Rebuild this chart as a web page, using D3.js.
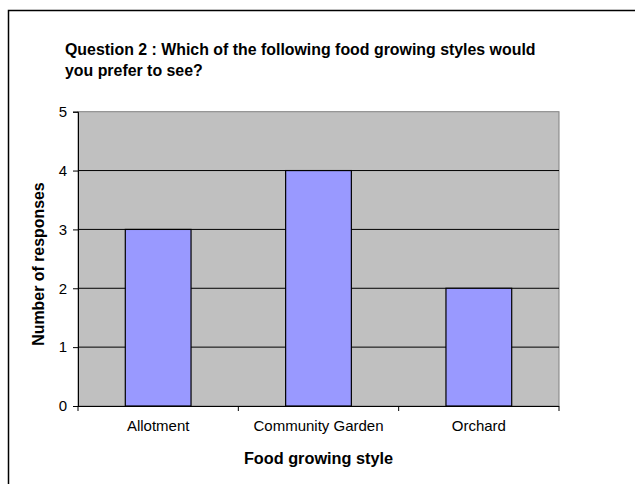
<!DOCTYPE html>
<html><head><meta charset="utf-8">
<script src="https://cdn.jsdelivr.net/npm/d3@7"></script>
<style>body{margin:0;background:#fff}svg{display:block}text{font-family:"Liberation Sans",Arial,sans-serif}</style>
</head><body>
<script>
const categories = ["Allotment", "Community Garden", "Orchard"];
const values = [3, 4, 2];
const yTicks = [0, 1, 2, 3, 4, 5];
const titleLines = ["Question 2 : Which of the following food growing styles would", "you prefer to see?"];
const xTitle = "Food growing style";
const yTitle = "Number of responses";

const W = 635, H = 484;
const svg = d3.select("body").append("svg").attr("width", W).attr("height", H);
svg.append("rect").attr("x", 8.5).attr("y", 10.5).attr("width", 800).attr("height", 800)
  .attr("fill", "#fff").attr("stroke", "#000").attr("stroke-width", 1.5);

const pL = 78, pR = 559, pT = 111.7, pB = 406;
const x = d3.scaleBand().domain(categories).range([pL, pR]).paddingInner(0).paddingOuter(0);
const y = d3.scaleLinear().domain([0, 5]).range([pB, pT]);

svg.append("rect").attr("x", pL).attr("y", pT).attr("width", pR - pL).attr("height", pB - pT)
  .attr("fill", "#c0c0c0").attr("stroke", "#808080").attr("stroke-width", 1);

// gridlines
svg.append("g").selectAll("line").data(yTicks.filter(d => d > 0 && d < 5)).join("line")
  .attr("x1", pL).attr("x2", pR).attr("y1", d => y(d)).attr("y2", d => y(d))
  .attr("stroke", "#000").attr("stroke-width", 1);

// bars
const bw = x.bandwidth() * 0.41;
svg.append("g").selectAll("rect").data(values).join("rect")
  .attr("x", (d, i) => x(categories[i]) + x.bandwidth() / 2 - bw / 2)
  .attr("y", d => y(d)).attr("width", bw).attr("height", d => y(0) - y(d))
  .attr("fill", "#9999ff").attr("stroke", "#000").attr("stroke-width", 1.2);

// y axis
const yAxis = d3.axisLeft(y).tickValues(yTicks).tickSize(5).tickPadding(6).tickFormat(d3.format("d"));
const gy = svg.append("g").attr("transform", `translate(${pL},0)`).call(yAxis);
gy.select(".domain").attr("stroke", "#000");
gy.selectAll("text").attr("font-size", 15).attr("fill", "#000").style("font-family", '"Liberation Sans",Arial,sans-serif');

// x axis
const xAxis = d3.axisBottom(x).tickSize(0).tickPadding(14);
const gx = svg.append("g").attr("transform", `translate(0,${pB})`).call(xAxis);
gx.select(".domain").attr("stroke", "#000").attr("d", `M${pL},0.5H${pR}`);
gx.selectAll("text").attr("font-size", 15).attr("fill", "#000").style("font-family", '"Liberation Sans",Arial,sans-serif');
// category boundary ticks
svg.append("g").selectAll("line").data(d3.range(categories.length + 1)).join("line")
  .attr("x1", i => pL + i * x.step()).attr("x2", i => pL + i * x.step())
  .attr("y1", pB).attr("y2", pB + 5).attr("stroke", "#000");

// title
svg.append("g").selectAll("text").data(titleLines).join("text")
  .attr("x", 65).attr("y", (d, i) => 55 + i * 21)
  .attr("font-size", 15.9).attr("font-weight", "bold").text(d => d);

svg.append("text").attr("x", (pL + pR) / 2).attr("y", 464).attr("text-anchor", "middle")
  .attr("font-size", 16.3).attr("font-weight", "bold").text(xTitle);

svg.append("text").attr("transform", `translate(44,264) rotate(-90)`).attr("text-anchor", "middle")
  .attr("font-size", 15.9).attr("font-weight", "bold").text(yTitle);
</script>
</body></html>
